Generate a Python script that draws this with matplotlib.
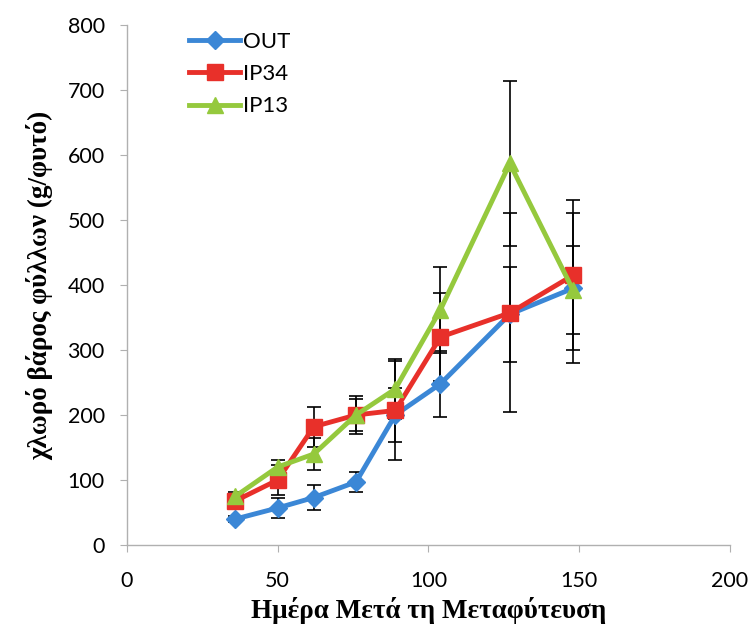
import matplotlib.pyplot as plt

# ημέρες μετά τη μεταφύτευση
days = [36, 50, 62, 76, 89, 104, 127, 148]

# χλωρό βάρος φύλλων (g/φυτό)
out_vals = [40, 57, 73, 97, 200, 248, 355, 395]
ip34_vals = [68, 100, 182, 200, 207, 320, 357, 415]
ip13_vals = [75, 120, 140, 200, 240, 362, 587, 392]

# τυπικά σφάλματα
out_err = [5, 16, 19, 15, 41, 51, 73, 115]
ip34_err = [6, 23, 31, 29, 76, 68, 153, 115]
ip13_err = [6, 11, 25, 25, 46, 66, 127, 68]

series = [
    ("OUT", out_vals, out_err, "#3b87d6", "D", 9),
    ("IP34", ip34_vals, ip34_err, "#e8302a", "s", 12),
    ("IP13", ip13_vals, ip13_err, "#95c93d", "^", 12),
]

fig = plt.figure(figsize=(7.54, 6.34), dpi=100)
ax = fig.add_axes([0.1684, 0.1404, 0.7996, 0.8202])

for name, vals, err, col, mk, ms in series:
    ax.errorbar(days, vals, yerr=err, fmt="none", ecolor="black",
                elinewidth=1.2, capsize=5, capthick=1.2, zorder=2)
for name, vals, err, col, mk, ms in series:
    ax.plot(days, vals, color=col, lw=3.5, marker=mk, markersize=ms,
            label=name, zorder=3)

ax.set_xlim(0, 200)
ax.set_ylim(0, 800)
ax.set_xticks([0, 50, 100, 150, 200])
ax.set_yticks(range(0, 801, 100))

for s in ["top", "right"]:
    ax.spines[s].set_visible(False)
for s in ["left", "bottom"]:
    ax.spines[s].set_color("#b0b0b0")
    ax.spines[s].set_linewidth(1)
ax.tick_params(axis="both", colors="#b0b0b0", length=5, labelcolor="black",
               labelsize=15.5)
ax.tick_params(axis="y", pad=11)
ax.tick_params(axis="x", pad=14)
for lab in ax.get_xticklabels() + ax.get_yticklabels():
    lab.set_fontfamily("Lato")

ax.set_xlabel("Ημέρα Μετά τη Μεταφύτευση", fontsize=19.5, fontweight="bold",
              family="Liberation Serif", labelpad=4)
ax.set_ylabel("χλωρό βάρος φύλλων (g/φυτό)", fontsize=19.5, fontweight="bold",
              family="Liberation Serif", labelpad=10)

leg = ax.legend(loc="upper left", bbox_to_anchor=(0.07, 1.025), frameon=False,
                prop={"family": "Lato", "size": 16}, handlelength=2.3,
                handletextpad=0.1, labelspacing=0.55)

fig.savefig("out.png", dpi=100)
